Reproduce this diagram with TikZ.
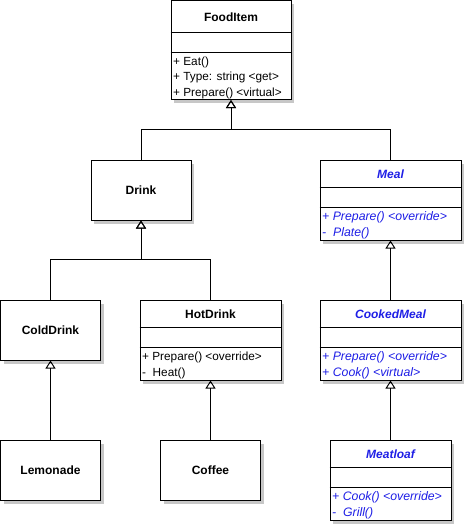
\documentclass[tikz,border=0pt]{standalone}
\usepackage{fontspec}
\setmainfont{Liberation Sans}
\usetikzlibrary{arrows.meta,shadows}
\definecolor{UB}{HTML}{1E1EE6}

\tikzset{
  cls/.style={draw, fill=white, line width=1pt, inner sep=0pt,
    font=\fontsize{12}{12}\selectfont\bfseries,
    drop shadow={shadow xshift=3pt, shadow yshift=-3.5pt,
      fill=black!22, opacity=1}},
  ctitle/.style={anchor=base, inner sep=0pt,
    font=\fontsize{12}{12}\selectfont\bfseries},
  atitle/.style={ctitle, text=UB,
    font=\fontsize{12}{12}\selectfont\bfseries\itshape},
  cmember/.style={anchor=base west, inner sep=0pt,
    font=\fontsize{11.8}{11.8}\selectfont},
  amember/.style={cmember, text=UB,
    font=\fontsize{12.3}{12.3}\selectfont\itshape},
  inherit/.style={-{Triangle[open, length=8pt, width=10pt]}, line width=1pt}
}

\begin{document}
\begin{tikzpicture}[x=1pt, y=-1pt]
  \useasboundingbox (0,0) rectangle (465,525);

  %% class boxes
  \node[cls, minimum width=120pt, minimum height=99pt] (fooditem) at (231,50) {};
  \node[cls, minimum width=100pt, minimum height=60pt] (drink) at (141,190) {Drink};
  \node[cls, minimum width=141pt, minimum height=80pt] (meal) at (390.5,200) {};
  \node[cls, minimum width=100pt, minimum height=60pt] (colddrink) at (50.5,330) {ColdDrink};
  \node[cls, minimum width=141pt, minimum height=80pt] (hotdrink) at (210.5,340) {};
  \node[cls, minimum width=141pt, minimum height=80pt] (cookedmeal) at (390.5,340) {};
  \node[cls, minimum width=100pt, minimum height=60pt] (lemonade) at (50.5,470) {Lemonade};
  \node[cls, minimum width=100pt, minimum height=60pt] (coffee) at (210.5,470) {Coffee};
  \node[cls, minimum width=121pt, minimum height=80pt] (meatloaf) at (390.5,480) {};

  %% compartment lines
  \foreach \cls/\ta/\tb in {fooditem/32/52, meal/28/48, hotdrink/28/48,
                            cookedmeal/28/48, meatloaf/28/48}{
    \draw[line width=1pt] ([yshift=-\ta pt]\cls.north west) -- ([yshift=-\ta pt]\cls.north east);
    \draw[line width=1pt] ([yshift=-\tb pt]\cls.north west) -- ([yshift=-\tb pt]\cls.north east);
  }

  %% titles
  \node[ctitle] (fooditemT) at ([yshift=-21.5pt]fooditem.north) {FoodItem};
  \node[atitle] (mealT) at ([yshift=-19pt]meal.north) {Meal};
  \node[ctitle] (hotdrinkT) at ([yshift=-19pt]hotdrink.north) {HotDrink};
  \node[atitle] (cookedmealT) at ([yshift=-19pt]cookedmeal.north) {CookedMeal};
  \node[atitle] (meatloafT) at ([yshift=-19pt]meatloaf.north) {Meatloaf};

  %% members
  \node[cmember] (fooditemA) at ([xshift=2.5pt, yshift=-65pt]fooditem.north west) {+ Eat()};
  \node[cmember] (fooditemB) at ([xshift=2.5pt, yshift=-80.5pt]fooditem.north west) {+ Type: string <get>};
  \node[cmember] (fooditemC) at ([xshift=2.5pt, yshift=-96pt]fooditem.north west) {+ Prepare() <virtual>};
  \node[amember] (mealA) at ([xshift=2.5pt, yshift=-61pt]meal.north west) {+ Prepare() <override>};
  \node[amember] (mealB) at ([xshift=2.5pt, yshift=-77pt]meal.north west) {-~~Plate()};
  \node[cmember] (hotdrinkA) at ([xshift=2.5pt, yshift=-61pt]hotdrink.north west) {+ Prepare() <override>};
  \node[cmember] (hotdrinkB) at ([xshift=2.5pt, yshift=-77pt]hotdrink.north west) {-~~Heat()};
  \node[amember] (cookedmealA) at ([xshift=2.5pt, yshift=-61pt]cookedmeal.north west) {+ Prepare() <override>};
  \node[amember] (cookedmealB) at ([xshift=2.5pt, yshift=-77pt]cookedmeal.north west) {+ Cook() <virtual>};
  \node[amember] (meatloafA) at ([xshift=2.5pt, yshift=-61pt]meatloaf.north west) {+ Cook() <override>};
  \node[amember] (meatloafB) at ([xshift=2.5pt, yshift=-77pt]meatloaf.north west) {-~~Grill()};

  %% generalisation
  \draw[inherit] (drink.north) -- ++(0,-30) -| (fooditem.south);
  \draw[inherit] (meal.north) -- ++(0,-30) -| (fooditem.south);
  \draw[inherit] (colddrink.north) -- ++(0,-40) -| (drink.south);
  \draw[inherit] (hotdrink.north) -- ++(0,-40) -| (drink.south);
  \draw[inherit] (cookedmeal.north) -- (meal.south);
  \draw[inherit] (meatloaf.north) -- (cookedmeal.south);
  \draw[inherit] (lemonade.north) -- (colddrink.south);
  \draw[inherit] (coffee.north) -- (hotdrink.south);
\end{tikzpicture}
\end{document}
